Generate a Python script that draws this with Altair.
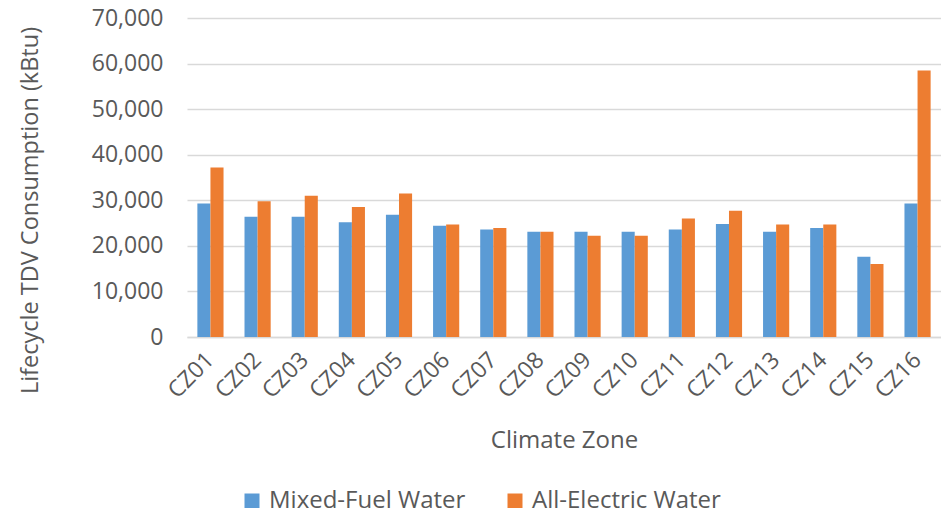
import altair as alt
import pandas as pd

zones = ["CZ01", "CZ02", "CZ03", "CZ04", "CZ05", "CZ06", "CZ07", "CZ08",
         "CZ09", "CZ10", "CZ11", "CZ12", "CZ13", "CZ14", "CZ15", "CZ16"]
mixed_fuel = [29300, 26400, 26400, 25200, 26800, 24400, 23600, 23100,
              23100, 23100, 23600, 24800, 23100, 23900, 17600, 29300]
all_electric = [37200, 29800, 31000, 28500, 31500, 24700, 23900, 23100,
                22200, 22200, 26000, 27700, 24700, 24700, 16000, 58500]
series = ["Mixed-Fuel Water", "All-Electric Water"]
colors = ["#5B9BD5", "#ED7D31"]
y_ticks = [0, 10000, 20000, 30000, 40000, 50000, 60000, 70000]

rows = []
for z, a, b in zip(zones, mixed_fuel, all_electric):
    rows.append({"zone": z, "series": series[0], "value": a})
    rows.append({"zone": z, "series": series[1], "value": b})
df = pd.DataFrame(rows)

FONT = "Open Sans"
GRAY = "#595959"
FS = 23

chart = alt.Chart(df).mark_bar().encode(
    x=alt.X("zone:N", sort=zones,
            scale=alt.Scale(paddingInner=0.445, paddingOuter=0.22),
            axis=alt.Axis(title="Climate Zone", labelAngle=-45, labelAlign="right",
                          labelBaseline="middle", labelPadding=19, ticks=False,
                          domain=True, domainColor="#D9D9D9", domainWidth=1.3,
                          labelFont=FONT, labelFontSize=FS, labelColor=GRAY,
                          titleFont=FONT, titleFontSize=FS + 1, titleColor=GRAY,
                          titleFontWeight="normal", titleY=103,
                          titleBaseline="middle")),
    xOffset=alt.XOffset("series:N", sort=series,
                        scale=alt.Scale(paddingInner=0, paddingOuter=0)),
    y=alt.Y("value:Q", scale=alt.Scale(domain=[0, 70000], nice=False),
            axis=alt.Axis(title="Lifecycle TDV Consumption (kBtu)", values=y_ticks,
                          format=",.0f", ticks=False, domain=False, labelPadding=24,
                          gridColor="#D9D9D9", gridWidth=1.3,
                          labelFont=FONT, labelFontSize=FS, labelColor=GRAY,
                          titleFont=FONT, titleFontSize=FS + 0.5, titleColor=GRAY,
                          titleFontWeight="normal", titleX=-157, titleY=192,
                          titleAngle=-90, titleAlign="center",
                          titleBaseline="middle")),
    color=alt.Color("series:N", sort=series,
                    scale=alt.Scale(domain=series, range=colors),
                    legend=alt.Legend(title=None, orient="none", direction="horizontal",
                                      legendX=53, legendY=471, symbolType="square",
                                      symbolSize=225, symbolStrokeWidth=0,
                                      labelFont=FONT, labelFontSize=24,
                                      labelColor=GRAY, labelOffset=5,
                                      labelLimit=400, columnPadding=37)),
).properties(
    width=754, height=319,
    autosize=alt.AutoSizeParams(type="none"),
    padding={"left": 179, "top": 10, "right": 0, "bottom": 171},
).configure_view(stroke=None)

chart.save("out.html", embed_options={"renderer": "svg", "actions": False})
